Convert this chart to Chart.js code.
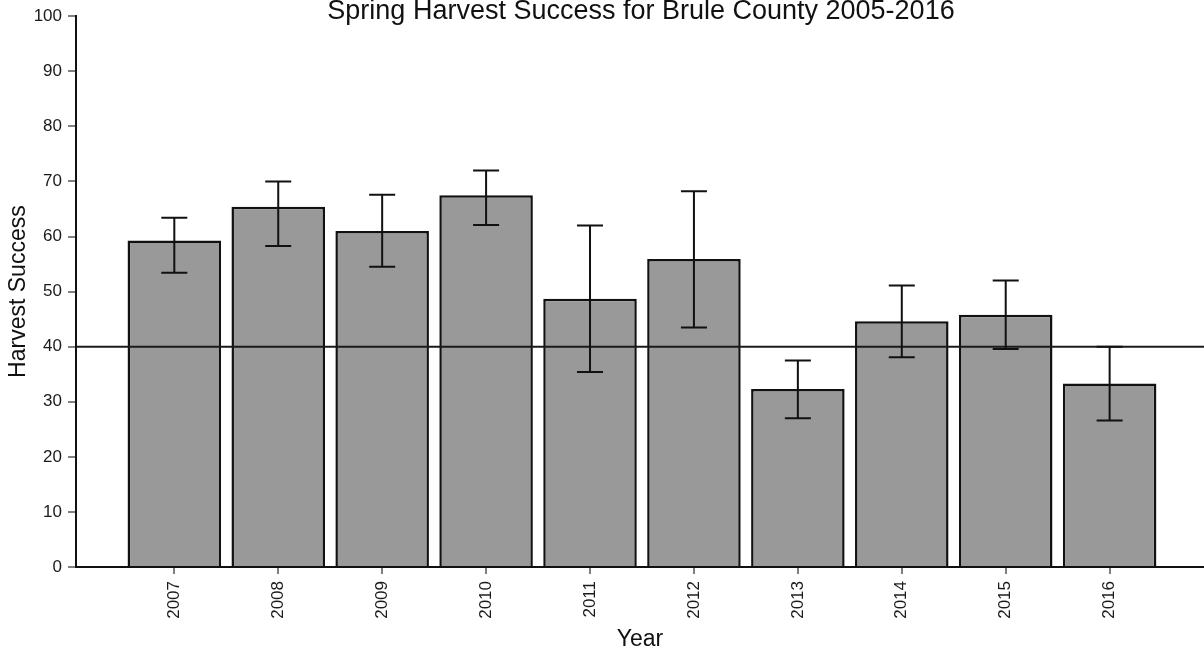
<!DOCTYPE html>
<html>
<head>
<meta charset="utf-8">
<script src="https://cdn.jsdelivr.net/npm/chart.js@4/dist/chart.umd.min.js"></script>
<style>
  html, body { margin: 0; padding: 0; background: #ffffff; }
  #wrap { width: 1204px; height: 654px; }
</style>
</head>
<body>
<div id="wrap"><canvas id="c" width="1204" height="654"></canvas></div>
<script>
const TITLE = 'Spring Harvest Success for Brule County 2005-2016';
const X_TITLE = 'Year';
const Y_TITLE = 'Harvest Success';
const YEARS = [2007, 2008, 2009, 2010, 2011, 2012, 2013, 2014, 2015, 2016];
const SUCCESS = [59.3, 65.4, 61.0, 67.5, 48.7, 55.9, 32.3, 44.6, 45.8, 33.3];
const ERR_LOW = [53.4, 58.3, 54.5, 62.1, 35.4, 43.5, 27.0, 38.1, 39.6, 26.6];
const ERR_HIGH = [63.4, 70.0, 67.6, 72.0, 62.0, 68.2, 37.5, 51.1, 52.0, 40.0];
const REF_VALUE = 40;
const Y_TICKS = [0, 10, 20, 30, 40, 50, 60, 70, 80, 90, 100];

const FONT = 'Liberation Sans, Arial, sans-serif';

const extras = {
  id: 'extras',
  afterDatasetsDraw(chart) {
    const ctx = chart.ctx;
    const xs = chart.scales.x, ys = chart.scales.y;
    const area = chart.chartArea;
    ctx.save();
    // reference line
    const yr = ys.getPixelForValue(REF_VALUE);
    ctx.strokeStyle = '#1a1a1a';
    ctx.lineWidth = 2;
    ctx.beginPath();
    ctx.moveTo(area.left, yr);
    ctx.lineTo(area.right, yr);
    ctx.stroke();
    // error bars
    ctx.strokeStyle = '#111111';
    ctx.lineWidth = 2;
    const cap = 13;
    YEARS.forEach((yv, i) => {
      const x = xs.getPixelForValue(yv);
      const y1 = ys.getPixelForValue(ERR_LOW[i]);
      const y2 = ys.getPixelForValue(ERR_HIGH[i]);
      ctx.beginPath();
      ctx.moveTo(x, y1); ctx.lineTo(x, y2);
      ctx.moveTo(x - cap, y1); ctx.lineTo(x + cap, y1);
      ctx.moveTo(x - cap, y2); ctx.lineTo(x + cap, y2);
      ctx.stroke();
    });
    ctx.restore();
  },
  afterDraw(chart) {
    const ctx = chart.ctx;
    const area = chart.chartArea;
    ctx.save();
    ctx.fillStyle = '#111111';
    ctx.font = '27px ' + FONT;
    ctx.textAlign = 'center';
    ctx.textBaseline = 'alphabetic';
    ctx.fillText(TITLE, (area.left + area.right) / 2 + 1, 19);
    ctx.restore();
  }
};

new Chart(document.getElementById('c'), {
  type: 'bar',
  data: {
    datasets: [{
      data: YEARS.map((y, i) => ({ x: y, y: SUCCESS[i] })),
      backgroundColor: '#999999',
      borderColor: '#111111',
      borderWidth: 2.5,
      barPercentage: 0.9,
      categoryPercentage: 1.0
    }]
  },
  options: {
    responsive: false,
    devicePixelRatio: 1,
    animation: false,
    layout: { padding: { top: 15, right: 0, left: 0, bottom: 0 } },
    plugins: {
      legend: { display: false },
      tooltip: { enabled: false },
      title: { display: false }
    },
    scales: {
      x: {
        type: 'linear',
        offset: false,
        min: 2006.054,
        max: 2016.908,
        afterBuildTicks: s => { s.ticks = YEARS.map(v => ({ value: v })); },
        afterFit: s => { s.height = 87; },
        ticks: {
          callback: v => String(v),
          autoSkip: false,
          maxRotation: 90,
          minRotation: 90,
          padding: 7,
          color: '#1a1a1a',
          font: { family: FONT, size: 17 }
        },
        grid: { drawOnChartArea: false, offset: false, tickLength: 7, color: '#808080', lineWidth: 2 },
        border: { color: '#111111', width: 2 },
        title: {
          display: true,
          text: X_TITLE,
          color: '#111111',
          font: { family: FONT, size: 23 },
          padding: { top: 0, bottom: 1 }
        }
      },
      y: {
        min: 0,
        max: 100,
        afterBuildTicks: s => { s.ticks = Y_TICKS.map(v => ({ value: v })); },
        afterFit: s => { s.width = 76; },
        ticks: {
          stepSize: 10,
          padding: 6,
          color: '#1a1a1a',
          font: { family: FONT, size: 17 }
        },
        grid: { drawOnChartArea: false, tickLength: 8, color: '#808080', lineWidth: 2 },
        border: { color: '#111111', width: 2 },
        title: {
          display: true,
          text: Y_TITLE,
          color: '#111111',
          font: { family: FONT, size: 23 },
          padding: { top: 5, bottom: 0 }
        }
      }
    }
  },
  plugins: [extras]
});
</script>
</body>
</html>
